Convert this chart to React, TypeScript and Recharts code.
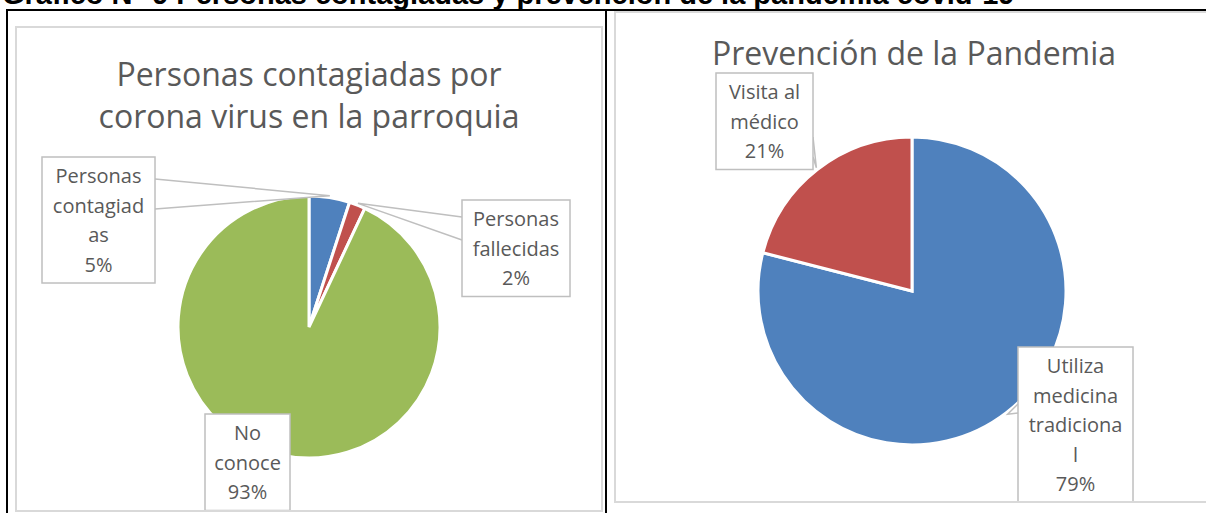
import { Cell, Pie, PieChart } from 'recharts'

const docTitle = 'Gráfico N° 9 Personas contagiadas y prevención de la pandemia covid-19'

const leftTitle = ['Personas contagiadas por', 'corona virus en la parroquia']
const leftNames = ['Personas contagiadas', 'Personas fallecidas', 'No conoce']
const leftValues = [5, 2, 93]
const leftColors = ['#4f81bd', '#c0504d', '#9bbb59']

const rightTitle = ['Prevención de la Pandemia']
const rightNames = ['Utiliza medicina tradicional', 'Visita al médico']
const rightValues = [79, 21]
const rightColors = ['#4f81bd', '#c0504d']

const leftData = leftNames.map((name, i) => ({ name, value: leftValues[i] }))
const rightData = rightNames.map((name, i) => ({ name, value: rightValues[i] }))

// label boxes, offsets from the pie centre
type LabelLayout = { dx: number; dy: number; w: number; wrap: number; leader?: [number, number]; side?: 'left' | 'right' }

const leftLayout: LabelLayout[] = [
    { dx: -267, dy: -170, w: 113, wrap: 9, leader: [22, 52], side: 'right' },
    { dx: 153, dy: -127, w: 108, wrap: 10, leader: [17, 40], side: 'left' },
    { dx: -104, dy: 87, w: 85, wrap: 6 },
]
const rightLayout: LabelLayout[] = [
    { dx: 106, dy: 56, w: 115, wrap: 10, leader: [57, 66], side: 'left' },
    { dx: -196, dy: -218, w: 97, wrap: 9, leader: [64, 84], side: 'right' },
]

const TEXT = '#595959'
const FONT = '"Open Sans", sans-serif'
const LINE = 29.5

const wrapText = (text: string, max: number) => {
    const out: string[] = []
    let cur = ''
    text.split(' ').forEach((word) => {
        if (cur && (cur + ' ' + word).length <= max) {
            cur = cur + ' ' + word
            return
        }
        if (cur) out.push(cur)
        cur = ''
        let w = word
        while (w.length > max) {
            out.push(w.slice(0, max))
            w = w.slice(max)
        }
        cur = w
    })
    if (cur) out.push(cur)
    return out
}

const makeLabel = (layout: LabelLayout[]) => (props: any) => {
    const { cx, cy, midAngle, outerRadius, percent, index, name } = props
    const L = layout[index]
    const rad = Math.PI / 180
    const ax = cx + (outerRadius + 2) * Math.cos(-midAngle * rad)
    const ay = cy + (outerRadius + 2) * Math.sin(-midAngle * rad)
    const bx = cx + L.dx
    const by = cy + L.dy
    const lines = [...wrapText(name, L.wrap), `${Math.round(percent * 100)}%`]
    const h = lines.length * LINE + 8
    const edgeX = L.side === 'right' ? bx + L.w : bx
    return (
        <g key={`lbl-${index}`}>
            {L.leader && (
                <polyline
                    points={`${edgeX},${by + L.leader[0]} ${ax},${ay} ${edgeX},${by + L.leader[1]}`}
                    fill="none"
                    stroke="#bfbfbf"
                    strokeWidth={1.5}
                />
            )}
            <rect x={bx} y={by} width={L.w} height={h} fill="#fff" stroke="#bfbfbf" strokeWidth={1.5} />
            {lines.map((t, i) => (
                <text
                    key={i}
                    x={bx + L.w / 2}
                    y={by + 4 + LINE / 2 + i * LINE}
                    textAnchor="middle"
                    dominantBaseline="central"
                    fill={TEXT}
                    fontSize={20}
                    fontFamily={FONT}
                >
                    {t}
                </text>
            ))}
        </g>
    )
}

const ChartBox = ({
    left,
    top,
    width,
    height,
    title,
    titleTop,
    children,
}: {
    left: number
    top: number
    width: number
    height: number
    title: string[]
    titleTop: number
    children: any
}) => (
    <div
        style={{
            position: 'absolute',
            left,
            top,
            width,
            height,
            border: '2px solid #d9d9d9',
            boxSizing: 'border-box',
            overflow: 'hidden',
            background: '#fff',
        }}
    >
        {children}
        <div
            style={{
                position: 'absolute',
                left: 0,
                top: titleTop,
                width: width - 4,
                textAlign: 'center',
                fontFamily: FONT,
                fontSize: 32,
                lineHeight: '42px',
                color: TEXT,
            }}
        >
            {title.map((t) => (
                <div key={t}>{t}</div>
            ))}
        </div>
    </div>
)

export default function App() {
    return (
        <div
            style={{
                position: 'absolute',
                left: 0,
                top: 0,
                width: 1206,
                height: 513,
                overflow: 'hidden',
                background: '#fff',
            }}
        >
            <div
                style={{
                    position: 'absolute',
                    left: 2,
                    top: -22,
                    whiteSpace: 'nowrap',
                    fontFamily: '"Liberation Sans", Arial, sans-serif',
                    fontWeight: 'bold',
                    fontSize: 29,
                    color: '#000',
                }}
            >
                {docTitle}
            </div>
            <div style={{ position: 'absolute', left: 6, top: 9, width: 1200, height: 2, background: '#000' }} />
            <div style={{ position: 'absolute', left: 6, top: 9, width: 2, height: 504, background: '#000' }} />
            <div style={{ position: 'absolute', left: 605, top: 9, width: 2, height: 504, background: '#000' }} />

            <ChartBox left={15} top={26} width={588} height={486} title={leftTitle} titleTop={25}>
                <PieChart width={584} height={482}>
                    <Pie
                        data={leftData}
                        dataKey="value"
                        nameKey="name"
                        cx={287}
                        cy={294}
                        outerRadius={131}
                        startAngle={90}
                        endAngle={-270}
                        stroke="#fff"
                        strokeWidth={3}
                        label={makeLabel(leftLayout)}
                        labelLine={false}
                        isAnimationActive={false}
                    >
                        {leftData.map((d, i) => (
                            <Cell key={d.name} fill={leftColors[i]} />
                        ))}
                    </Pie>
                </PieChart>
            </ChartBox>

            <ChartBox left={614} top={11} width={600} height={492} title={rightTitle} titleTop={19}>
                <PieChart width={596} height={488}>
                    <Pie
                        data={rightData}
                        dataKey="value"
                        nameKey="name"
                        cx={291}
                        cy={273}
                        outerRadius={154}
                        startAngle={90}
                        endAngle={-270}
                        stroke="#fff"
                        strokeWidth={3}
                        label={makeLabel(rightLayout)}
                        labelLine={false}
                        isAnimationActive={false}
                    >
                        {rightData.map((d, i) => (
                            <Cell key={d.name} fill={rightColors[i]} />
                        ))}
                    </Pie>
                </PieChart>
            </ChartBox>
        </div>
    )
}
